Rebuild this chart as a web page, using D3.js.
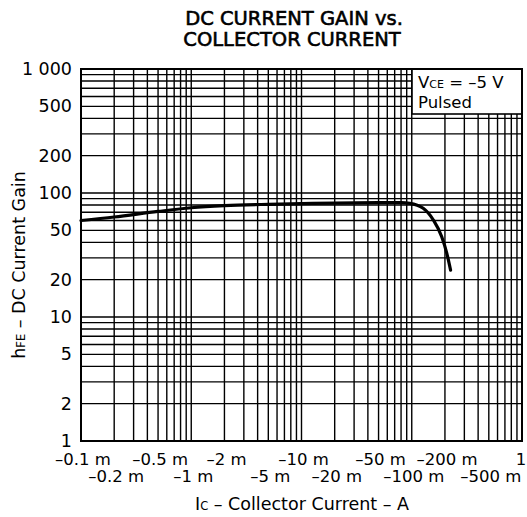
<!DOCTYPE html>
<html>
<head>
<meta charset="utf-8">
<script src="https://cdn.jsdelivr.net/npm/d3@7"></script>
<style>
  body { margin: 0; background: #fff; }
  svg { display: block; font-family: "DejaVu Sans", "Liberation Sans", Arial, sans-serif; }
</style>
</head>
<body>
<svg id="chart"></svg>
<script>
// Collector current (A, magnitude) and DC current gain
const current = [1e-4, 2e-4, 5e-4, 1e-3, 2e-3, 5e-3, 1e-2, 2e-2, 5e-2, 0.08, 0.096, 0.127, 0.157, 0.187, 0.208, 0.225];
const gain = [60, 64, 71, 76, 79, 81, 82, 83, 83.5, 83.5, 82.6, 75.3, 60.6, 44.4, 32.6, 23.9];

// tick labels
const xTicksTop = [1e-4, 5e-4, 2e-3, 1e-2, 5e-2, 0.2, 1];
const xTicksBottom = [2e-4, 1e-3, 5e-3, 2e-2, 0.1, 0.5];
const yTicks = [1, 2, 5, 10, 20, 50, 100, 200, 500, 1000];

const width = 527, height = 517;
const margin = { top: 69, right: 5, bottom: 76, left: 81 };

const svg = d3.select('#chart')
    .attr('width', width)
    .attr('height', height);

const x = d3.scaleLog().domain([1e-4, 1]).range([margin.left, width - margin.right]);
const y = d3.scaleLog().domain([1, 1000]).range([height - margin.bottom, margin.top]);

// full log grid: 1..9 in each decade
const gridX = [], gridY = [];
for (let e = -4; e < 0; e++) for (let m = 1; m < 10; m++) gridX.push(m * Math.pow(10, e));
for (let e = 0; e < 3; e++) for (let m = 1; m < 10; m++) gridY.push(m * Math.pow(10, e));

const grid = svg.append('g').attr('stroke', '#000').attr('stroke-width', 1.4);
grid.selectAll('.vx').data(gridX).enter().append('line')
    .attr('x1', d => x(d)).attr('x2', d => x(d))
    .attr('y1', y(1)).attr('y2', y(1000));
grid.selectAll('.hy').data(gridY).enter().append('line')
    .attr('x1', x(1e-4)).attr('x2', x(1))
    .attr('y1', d => y(d)).attr('y2', d => y(d));

// legend box sits on top of the grid
const lg = svg.append('g');
lg.append('rect')
    .attr('x', 412).attr('y', y(1000))
    .attr('width', x(1) - 412).attr('height', 45)
    .attr('fill', '#fff').attr('stroke', '#000').attr('stroke-width', 1.6);
lg.append('text').attr('x', 418).attr('y', 88).attr('font-size', 16.5)
    .html('V<tspan font-size="11">CE</tspan> = –5 V');
lg.append('text').attr('x', 418).attr('y', 108).attr('font-size', 16.5).text('Pulsed');

// frame
svg.append('rect')
    .attr('x', x(1e-4)).attr('y', y(1000))
    .attr('width', x(1) - x(1e-4)).attr('height', y(1) - y(1000))
    .attr('fill', 'none').attr('stroke', '#000').attr('stroke-width', 2);

// the curve
const line = d3.line()
    .x((d, i) => x(current[i]))
    .y(d => y(d))
    .curve(d3.curveMonotoneX);
svg.append('path')
    .datum(gain)
    .attr('d', line)
    .attr('fill', 'none')
    .attr('stroke', '#000')
    .attr('stroke-width', 3.2)
    .attr('stroke-linecap', 'round');

// y tick labels
const fmtY = d => d === 1000 ? '1 000' : String(d);
svg.append('g').selectAll('text').data(yTicks).enter().append('text')
    .attr('x', 72).attr('y', d => y(d) + 6)
    .attr('text-anchor', 'end').attr('font-size', 17.5)
    .text(fmtY);

// x tick labels, two staggered rows
const fmtX = d => {
    if (d === 1) return '1';
    const mA = Math.round(d * 1e4) / 10;
    return '–' + mA + ' m';
};
svg.append('g').selectAll('text').data(xTicksTop).enter().append('text')
    .attr('x', d => d === 1 ? x(d) - 1 : x(d) + 2).attr('y', 465)
    .attr('text-anchor', 'middle').attr('font-size', 16.5)
    .text(fmtX);
svg.append('g').selectAll('text').data(xTicksBottom).enter().append('text')
    .attr('x', d => x(d) + 2).attr('y', 482)
    .attr('text-anchor', 'middle').attr('font-size', 16.5)
    .text(fmtX);

// axis titles
svg.append('text').attr('x', 302).attr('y', 510)
    .attr('text-anchor', 'middle').attr('font-size', 17.5)
    .html('I<tspan font-size="11.5">C</tspan> – Collector Current – A');

svg.append('text')
    .attr('transform', 'translate(25,265) rotate(-90)')
    .attr('text-anchor', 'middle').attr('font-size', 17.5)
    .html('h<tspan font-size="11.5">FE</tspan> – DC Current Gain');

// title
const title = svg.append('text').attr('text-anchor', 'middle')
    .attr('font-size', 19.5).attr('stroke', '#000').attr('stroke-width', 0.6);
title.append('tspan').attr('x', 294).attr('y', 25).text('DC CURRENT GAIN vs.');
title.append('tspan').attr('x', 292).attr('y', 46).text('COLLECTOR CURRENT');
</script>
</body>
</html>
